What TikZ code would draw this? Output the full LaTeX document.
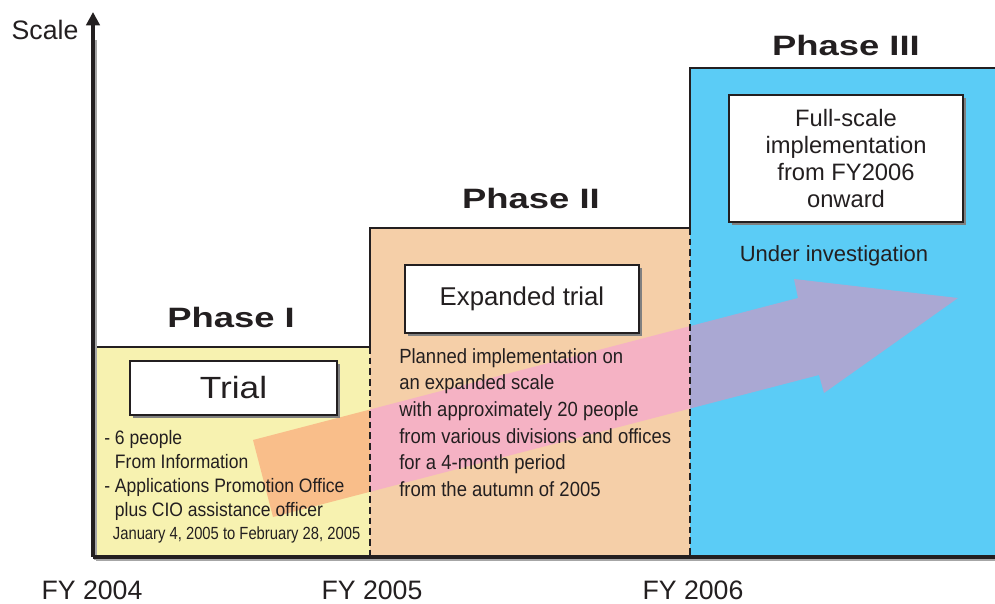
\documentclass[tikz,border=0pt]{standalone}
\usepackage{fontspec}
\setmainfont{Liberation Sans}
\newfontfamily\narrowfont[FakeStretch=0.9]{Liberation Sans}
\newfontfamily\datefont[FakeStretch=0.84]{Liberation Sans}
\newfontfamily\widefont[FakeStretch=1.15]{Liberation Sans}
\newfontfamily\phasefont[FakeStretch=1.3]{Liberation Sans}
\usetikzlibrary{arrows.meta,shadows}

\definecolor{phaseone}{HTML}{F7F2B0}
\definecolor{phasetwo}{HTML}{F5CFA8}
\definecolor{phasethree}{HTML}{5BCCF6}
\definecolor{arrowone}{HTML}{F9BE8A}
\definecolor{arrowtwo}{HTML}{F5B2C4}
\definecolor{arrowthree}{HTML}{AAA8D3}
\definecolor{ink}{HTML}{231F20}

\tikzset{
	axisline/.style={draw=ink, line width=3pt},
	axisshade/.style={draw=black!35, line width=2.5pt},
	phaseedge/.style={draw=ink, line width=1pt},
	divider/.style={draw=ink, line width=1.8pt, dash pattern=on 5pt off 3pt},
	stagebox/.style={fill=white, draw=ink, line width=1pt,
		general shadow={fill=black!50, shadow xshift=2.2pt, shadow yshift=-2.2pt}},
	phaselabel/.style={font=\phasefont\bfseries\fontsize{21}{25}\selectfont, text=ink},
	yearlabel/.style={font=\fontsize{20}{24}\selectfont, text=ink},
	notes/.style={align=left, inner sep=0pt, text=ink}
}

\begin{document}
\begin{tikzpicture}[x=0.75pt, y=-0.75pt]
	
	\useasboundingbox (0,0) rectangle (995,603);
	
	% phase areas
	\fill[phaseone] (93,347) rectangle (370,557);
	\fill[phasetwo] (370,228) rectangle (690,557);
	\fill[phasethree] (690,68) rectangle (995,557);
	\draw[phaseedge] (93,347) -- (370,347) -- (370,228) -- (690,228) -- (690,68) -- (995,68);
	
	% growth arrow, tinted by the area it crosses
	\foreach \xa/\xb/\tone in {93/370/arrowone, 370/690/arrowtwo, 690/995/arrowthree} {
		\begin{scope}
			\clip (\xa,60) rectangle (\xb,557);
			\fill[\tone] (253,440) -- (798,298) -- (794,279) -- (958,298)
				-- (824,393) -- (819,375) -- (273,517) -- cycle;
		\end{scope}
	}
	
	\draw[divider] (370,347) -- (370,557);
	\draw[divider] (690,228) -- (690,557);
	
	% axes
	\draw[axisshade] (95.5,559.5) -- (995,559.5);
	\draw[axisshade] (95.5,559.5) -- (95.5,40);
	\draw[axisline] (93,557) -- (995,557);
	\draw[axisline, -{Triangle[length=10pt,width=10pt]}] (93,557) -- (93,12);
	
	\node[font=\fontsize{20}{24}\selectfont, text=ink] (scale) at (45,30) {Scale};
	\node[yearlabel] (fyfour) at (92,590) {FY 2004};
	\node[yearlabel] (fyfive) at (372,590) {FY 2005};
	\node[yearlabel] (fysix) at (693,590) {FY 2006};
	
	\node[phaselabel] (phaseone) at (231,317) {Phase I};
	\node[phaselabel] (phasetwo) at (531,198) {Phase II};
	\node[phaselabel] (phasethree) at (846,45) {Phase III};
	
	% stage boxes
	\filldraw[stagebox] (130,361) rectangle (337,415)
		node[midway, font=\widefont\fontsize{23}{27}\selectfont, text=ink] (trial) {Trial};
	\filldraw[stagebox] (405,265) rectangle (639,333)
		node[midway, font=\fontsize{19.3}{23}\selectfont, text=ink] (expanded) {Expanded trial};
	\filldraw[stagebox] (729,95) rectangle (963,222)
		node[midway, align=center, font=\fontsize{17.8}{20.25}\selectfont, text=ink] (fullscale)
		{Full-scale\\implementation\\from FY2006\\onward};
	
	\node[font=\fontsize{16.5}{20}\selectfont, text=ink] (investigation) at (834,256) {Under investigation};
	
	% notes
	\node[notes, anchor=north west, font=\narrowfont\fontsize{14.6}{18}\selectfont] (trialnotes) at (104,430)
		{- 6 people\\
		\phantom{- }From Information\\
		- Applications Promotion Office\\
		\phantom{- }plus CIO assistance officer\\[-1pt]
		{\datefont\fontsize{13.2}{17}\selectfont\hspace{6.5pt}January 4, 2005 to February 28, 2005}};
	\node[notes, anchor=north west, font=\narrowfont\fontsize{15.4}{20}\selectfont] (expandednotes) at (399,348)
		{Planned implementation on\\
		an expanded scale\\
		with approximately 20 people\\
		from various divisions and offices\\
		for a 4-month period\\
		from the autumn of 2005};
	
\end{tikzpicture}
\end{document}
